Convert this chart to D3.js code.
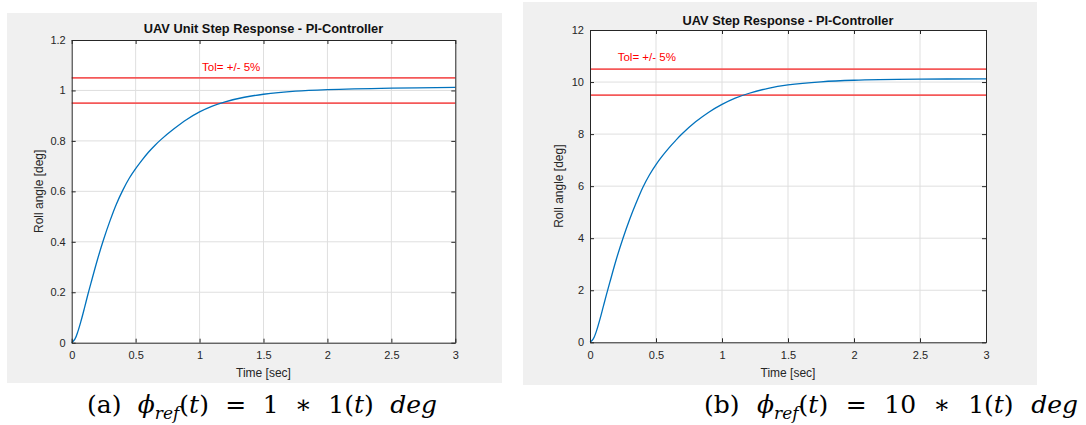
<!DOCTYPE html>
<html>
<head>
<meta charset="utf-8">
<script src="https://cdn.jsdelivr.net/npm/d3@7"></script>
<style>
  html, body { margin: 0; padding: 0; background: #ffffff; }
  svg { display: block; }
</style>
</head>
<body>
<svg id="chart" width="1086" height="425"></svg>
<script>
// ---------------- data ----------------
const titles = ["UAV Unit Step Response - PI-Controller", "UAV Step Response - PI-Controller"];
const xLabel = "Time [sec]";
const yLabel = "Roll angle [deg]";
const tolText = "Tol= +/- 5%";
const captionTags = ["(a)", "(b)"];
const refValues = ["1", "10"];

const time = [0, 0.025, 0.05, 0.075, 0.1, 0.125, 0.15, 0.2, 0.25, 0.3, 0.35, 0.4, 0.45, 0.5, 0.55,
              0.6, 0.65, 0.7, 0.8, 0.9, 1.0, 1.1, 1.2, 1.35, 1.5, 1.75, 2.0, 2.5, 3.0];
const rollUnit = [0, 0.014, 0.047, 0.09, 0.138, 0.188, 0.235, 0.327, 0.41, 0.484, 0.55, 0.605, 0.652, 0.69, 0.724,
                  0.755, 0.782, 0.806, 0.848, 0.885, 0.915, 0.938, 0.955, 0.973, 0.985, 0.997, 1.003, 1.009, 1.012];
const rollTen = [0, 0.13, 0.45, 0.88, 1.36, 1.84, 2.3, 3.2, 4.0, 4.72, 5.36, 5.95, 6.43, 6.83, 7.17,
                 7.48, 7.76, 8.02, 8.47, 8.84, 9.14, 9.38, 9.56, 9.76, 9.89, 10.01, 10.07, 10.11, 10.12];
const tolUnit = [0.95, 1.05];
const tolTen = [9.5, 10.5];
const tolLabelUnit = [1.02, 1.077];
const tolLabelTen = [0.21, 10.8];
const xTicks = [0, 0.5, 1, 1.5, 2, 2.5, 3];
const yTicksUnit = [0, 0.2, 0.4, 0.6, 0.8, 1, 1.2];
const yTicksTen = [0, 2, 4, 6, 8, 10, 12];
const xDomain = [0, 3];
const yDomainUnit = [0, 1.2];
const yDomainTen = [0, 12];

// ---------------- layout ----------------
const panels = [
  { bg: [7, 13, 502, 383], plot: [71.7, 40, 455.3, 342.7], titleY: 33.3, yLabelX: 39,
    series: rollUnit, tol: tolUnit, tolLabel: tolLabelUnit, yTicks: yTicksUnit, yDomain: yDomainUnit,
    title: titles[0], tag: captionTags[0], ref: refValues[0], capX: 87, capW: 350 },
  { bg: [523, 2, 1037, 385], plot: [590, 30, 986, 342.3], titleY: 24.7, yLabelX: 559,
    series: rollTen, tol: tolTen, tolLabel: tolLabelTen, yTicks: yTicksTen, yDomain: yDomainTen,
    title: titles[1], tag: captionTags[1], ref: refValues[1], capX: 704, capW: 374 }
];

const FONT = "'Liberation Sans', Arial, Helvetica, sans-serif";
const INK = "#262626";
const GRID = "#dfdfdf";
const BLUE = "#0072BD";
const RED = "#f45858";

const svg = d3.select("#chart");

panels.forEach(p => {
  const [bx0, by0, bx1, by1] = p.bg;
  const [px0, py0, px1, py1] = p.plot;

  svg.append("rect").attr("x", bx0).attr("y", by0).attr("width", bx1 - bx0).attr("height", by1 - by0)
    .attr("fill", "#f0f0f0");

  const x = d3.scaleLinear().domain(xDomain).range([px0, px1]);
  const y = d3.scaleLinear().domain(p.yDomain).range([py1, py0]);

  const g = svg.append("g");
  g.append("rect").attr("x", px0).attr("y", py0).attr("width", px1 - px0).attr("height", py1 - py0)
    .attr("fill", "#ffffff");

  // grid
  g.append("g").selectAll("line").data(xTicks.slice(1, -1)).join("line")
    .attr("x1", d => x(d)).attr("x2", d => x(d)).attr("y1", py0).attr("y2", py1)
    .attr("stroke", GRID).attr("stroke-width", 1);
  g.append("g").selectAll("line").data(p.yTicks.slice(1, -1)).join("line")
    .attr("y1", d => y(d)).attr("y2", d => y(d)).attr("x1", px0).attr("x2", px1)
    .attr("stroke", GRID).attr("stroke-width", 1);

  // tolerance lines
  g.append("g").selectAll("line").data(p.tol).join("line")
    .attr("x1", x(xDomain[0])).attr("x2", x(xDomain[1]))
    .attr("y1", d => y(d)).attr("y2", d => y(d))
    .attr("stroke", RED).attr("stroke-width", 1.8);

  g.append("text").attr("x", x(p.tolLabel[0])).attr("y", y(p.tolLabel[1]))
    .attr("font-family", FONT).attr("font-size", 11.5).attr("fill", "#ff0000").text(tolText);

  // response curve
  const pts = time.map((t, i) => [t, p.series[i]]);
  g.append("path").datum(pts)
    .attr("d", d3.line().x(d => x(d[0])).y(d => y(d[1])).curve(d3.curveCatmullRom.alpha(0.5)))
    .attr("fill", "none").attr("stroke", BLUE).attr("stroke-width", 1.3);

  // axes
  const styleAxis = sel => {
    sel.selectAll(".domain").attr("stroke", INK).attr("stroke-width", 1).attr("fill", "none");
    sel.selectAll(".tick line").attr("stroke", INK);
    sel.selectAll(".tick text").attr("fill", INK).attr("font-family", FONT).attr("font-size", 11);
  };
  g.append("g").attr("transform", `translate(0,${py1})`)
    .call(d3.axisBottom(x).tickValues(xTicks).tickFormat(d3.format("")).tickSizeInner(-4).tickSizeOuter(0).tickPadding(9))
    .call(styleAxis);
  g.append("g").attr("transform", `translate(0,${py0})`)
    .call(d3.axisTop(x).tickValues(xTicks).tickFormat("").tickSizeInner(-4).tickSizeOuter(0))
    .call(styleAxis);
  g.append("g").attr("transform", `translate(${px0},0)`)
    .call(d3.axisLeft(y).tickValues(p.yTicks).tickFormat(d3.format("")).tickSizeInner(-4).tickSizeOuter(0).tickPadding(6))
    .call(styleAxis);
  g.append("g").attr("transform", `translate(${px1},0)`)
    .call(d3.axisRight(y).tickValues(p.yTicks).tickFormat("").tickSizeInner(-4).tickSizeOuter(0))
    .call(styleAxis);

  // title and labels
  svg.append("text").attr("x", (px0 + px1) / 2).attr("y", p.titleY).attr("text-anchor", "middle")
    .attr("font-family", FONT).attr("font-weight", "bold").attr("font-size", 12.8).attr("fill", "#111")
    .text(p.title);
  svg.append("text").attr("x", (px0 + px1) / 2).attr("y", 377).attr("text-anchor", "middle")
    .attr("font-family", FONT).attr("font-size", 12).attr("fill", INK).text(xLabel);
  svg.append("text").attr("transform", `translate(${p.yLabelX},${(py0 + py1) / 2}) rotate(-90)`)
    .attr("text-anchor", "middle").attr("dy", "0.35em")
    .attr("font-family", FONT).attr("font-size", 12).attr("fill", INK).text(yLabel);

  // caption (math style)
  const cap = svg.append("text").attr("x", p.capX).attr("y", 413)
    .attr("font-family", "'DejaVu Serif', 'Liberation Serif', serif").attr("font-size", 25).attr("fill", "#000");
  const pieces = [
    { t: p.tag }, { gap: true },
    { t: "ϕ", it: true }, { t: "ref", it: true, sub: true }, { t: "(" }, { t: "t", it: true }, { t: ")" },
    { gap: true }, { t: "=" }, { gap: true }, { t: p.ref }, { gap: true }, { t: "∗" }, { gap: true },
    { t: "1(" }, { t: "t", it: true }, { t: ")" }, { gap: true }, { t: "deg", it: true }
  ];
  let pendingGap = 0, prevSub = false;
  const spans = [];
  pieces.forEach(pc => {
    if (pc.gap) { pendingGap++; return; }
    const ts = cap.append("tspan").text(pc.t);
    if (pc.it) ts.attr("font-style", "italic");
    let dy = 0;
    if (pc.sub) { ts.attr("font-size", 17); dy = 6; }
    if (prevSub && !pc.sub) dy = -6;
    if (dy) ts.attr("dy", dy);
    spans.push({ ts, gaps: pendingGap });
    pendingGap = 0;
    prevSub = !!pc.sub;
  });
  const natural = cap.node().getComputedTextLength();
  const nGaps = spans.reduce((s, d) => s + d.gaps, 0);
  const gapW = Math.max(0, (p.capW - natural) / nGaps);
  spans.forEach(d => { if (d.gaps) d.ts.attr("dx", d.gaps * gapW); });
});
</script>
</body>
</html>
